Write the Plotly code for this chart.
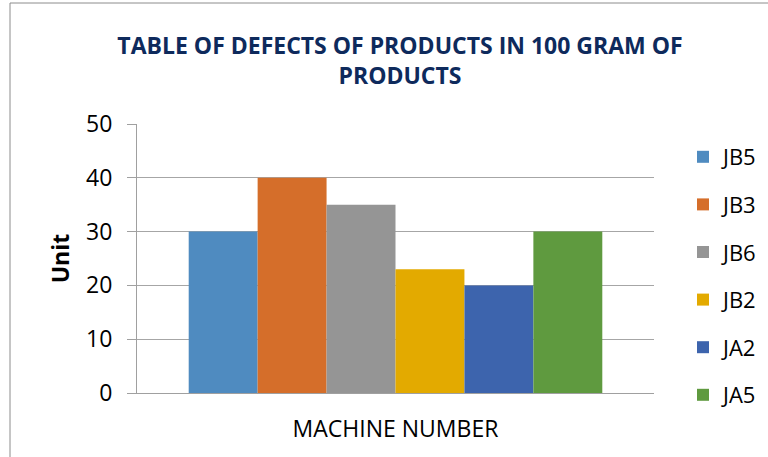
import plotly.graph_objects as go

categories = ["MACHINE NUMBER"]
series_names = ["JB5", "JB3", "JB6", "JB2", "JA2", "JA5"]
series_values = [30, 40, 35, 23, 20, 30]
series_colors = ["#4F8BC0", "#D56E2A", "#959595", "#E3AA00", "#3D64AD", "#5F9A3F"]

FONT = "Open Sans"

fig = go.Figure()
for i, (name, val, col) in enumerate(zip(series_names, series_values, series_colors)):
    fig.add_trace(go.Bar(
        x=categories, y=[val], name=name, marker=dict(color=col, line=dict(width=0)),
        legendgroup=f"g{i}",
    ))

L, R, T, B = 137, 654, 124, 393
W, H = 768, 457
pw, ph = R - L, B - T

def px(x):
    return (x - L) / pw

def py(y):
    return (B - y) / ph

fig.update_layout(
    width=W, height=H,
    margin=dict(l=L, r=W - R, t=T, b=H - B, pad=0, autoexpand=False),
    paper_bgcolor="white", plot_bgcolor="white",
    barmode="group", bargap=0.2, bargroupgap=0,
    font=dict(family=FONT, size=21, color="black"),
    title=dict(
        text="TABLE OF DEFECTS OF PRODUCTS IN 100 GRAM OF<br>PRODUCTS",
        x=px(400), xref="paper", xanchor="center",
        y=1 - 54 / H, yref="container", yanchor="middle",
        font=dict(family=FONT, size=23, color="#0E2A5C", weight="bold"),
    ),
    legend=dict(
        x=px(683), xanchor="left", y=py(136), yanchor="top",
        font=dict(family=FONT, size=22, color="black"),
        tracegroupgap=16, itemwidth=30, bgcolor="rgba(0,0,0,0)",
        maxheight=440,
    ),
    showlegend=True,
)
fig.update_xaxes(
    showticklabels=False, ticks="", showline=True, linecolor="#A0A0A0", linewidth=1,
    title=dict(text="MACHINE NUMBER", font=dict(family=FONT, size=23, color="black"), standoff=27),
    showgrid=False,
)
fig.update_yaxes(
    range=[0, 50], dtick=10, tick0=0,
    showgrid=True, gridcolor="#A6A6A6", gridwidth=1,
    showline=True, linecolor="#A0A0A0", linewidth=1,
    ticks="outside", ticklen=9, tickcolor="#A0A0A0",
    tickfont=dict(family=FONT, size=23, color="black"),
    ticklabelstandoff=10,
    title=dict(text="<b>Unit</b>", font=dict(family=FONT, size=23, color="black"), standoff=10),
    zeroline=False,
)
fig.add_shape(
    type="rect", xref="paper", yref="paper",
    x0=px(10), x1=px(W + 20), y0=py(H + 20), y1=py(3),
    line=dict(color="#8C8C8C", width=1), fillcolor="rgba(0,0,0,0)", layer="below",
)
fig.write_html("out.html")
